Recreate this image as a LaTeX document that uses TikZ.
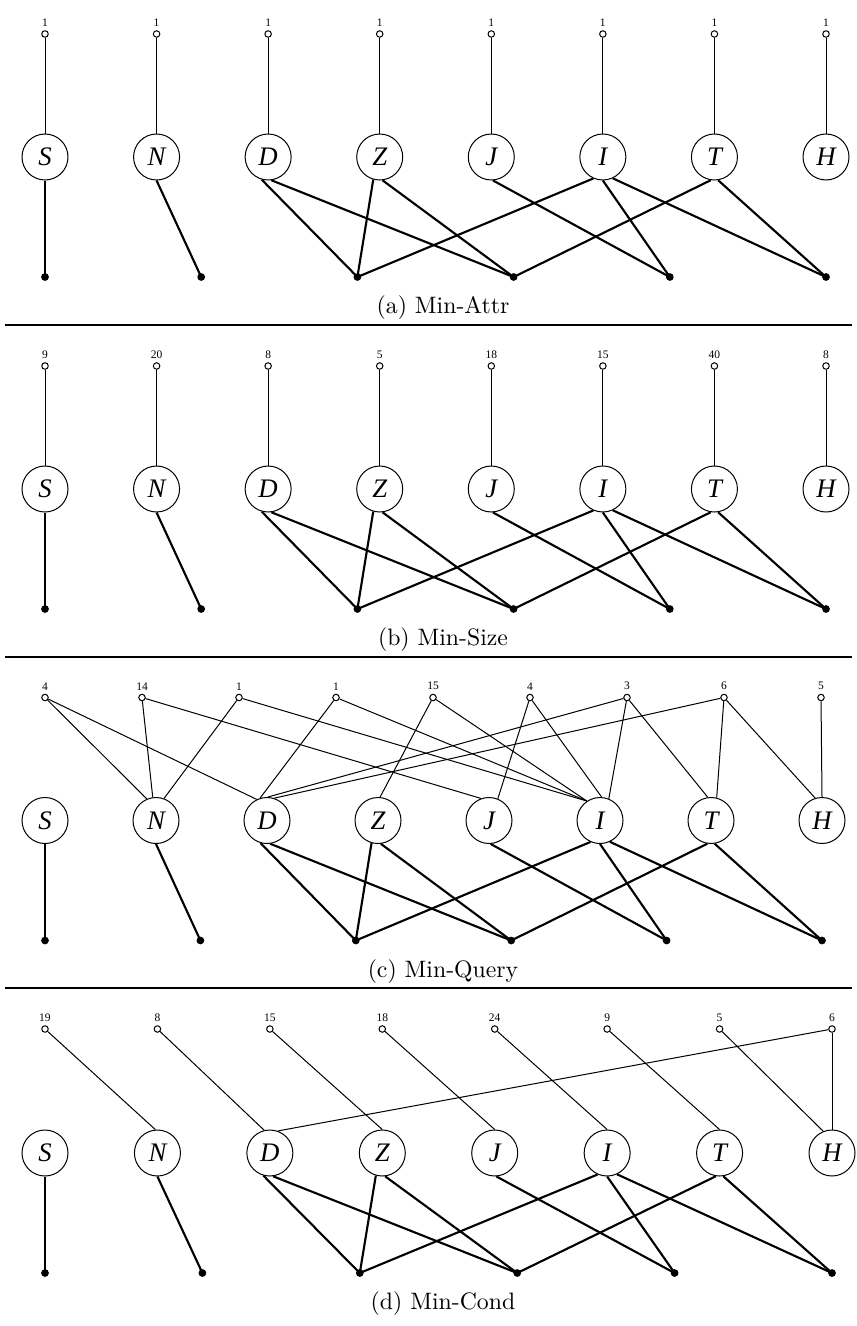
\documentclass[tikz,border=0pt]{standalone}
\usepackage{fontspec}
\newfontfamily\tmsfont{Liberation Serif}

% One panel: eight attribute vertices, six result dots, the heavy edges and the caption.
% #1 name prefix, #2 vertical shift, #3 horizontal span, #4 caption
\newcommand\panelbase[4]{%
  \foreach \L [count=\i from 0] in {S,N,D,Z,J,I,T,H}
    \node[vtx] (#1\L) at ({45+\i*#3/7},{157+#2}) {\L};
  \foreach \j in {1,...,6}
    \node[leaf] (#1b\j) at ({45+(\j-1)*#3/5},{277+#2}) {};
  \draw[heavy edge] (#1S.-90)  -- (#1b1.center);
  \draw[heavy edge] (#1N.-90)  -- (#1b2.center);
  \draw[heavy edge] (#1D.-106) -- (#1b3.center);
  \draw[heavy edge] (#1D.-82)  -- (#1b4.center);
  \draw[heavy edge] (#1Z.-106) -- (#1b3.center);
  \draw[heavy edge] (#1Z.-83)  -- (#1b4.center);
  \draw[heavy edge] (#1J.-86)  -- (#1b5.center);
  \draw[heavy edge] (#1I.-114) -- (#1b3.center);
  \draw[heavy edge] (#1I.-90)  -- (#1b5.center);
  \draw[heavy edge] (#1I.-65)  -- (#1b6.center);
  \draw[heavy edge] (#1T.-99)  -- (#1b4.center);
  \draw[heavy edge] (#1T.-81)  -- (#1b6.center);
  \node[caption] (#1cap) at (443,{308+#2}) {#4};
}

\begin{document}
\begin{tikzpicture}[x=0.4pt,y=-0.4pt,
  vtx/.style={circle,draw,line width=0.4pt,minimum size=18.4pt,inner sep=0pt,
    font=\tmsfont\itshape\fontsize{10.7}{12}\selectfont},
  qpt/.style={circle,draw,line width=0.4pt,minimum size=2.6pt,inner sep=0pt,fill=white},
  leaf/.style={circle,fill=black,minimum size=3.1pt,inner sep=0pt},
  thin edge/.style={line width=0.4pt},
  heavy edge/.style={line width=0.85pt},
  qlabel/.style={font=\tmsfont\fontsize{4.6}{5}\selectfont,inner sep=0pt,label distance=1.3pt},
  caption/.style={font=\fontsize{9.5}{11}\selectfont,inner sep=0pt},
  rule/.style={line width=0.6pt}]

\useasboundingbox (0,0) rectangle (857,1326);

% ---------------- (a) Min-Attr ----------------
\panelbase{a}{0}{781}{(a) Min-Attr}
\foreach \L/\v [count=\i from 0] in {S/1,N/1,D/1,Z/1,J/1,I/1,T/1,H/1} {
  \node[qpt,label={[qlabel]above:\v}] (aq\i) at ({45+\i*781/7},34) {};
  \draw[thin edge] (aq\i) -- (a\L.90);
}
\draw[rule] (5,325) -- (852,325);

% ---------------- (b) Min-Size ----------------
\panelbase{b}{332}{781}{(b) Min-Size}
\foreach \L/\v [count=\i from 0] in {S/9,N/20,D/8,Z/5,J/18,I/15,T/40,H/8} {
  \node[qpt,label={[qlabel]above:\v}] (bq\i) at ({45+\i*781/7},366) {};
  \draw[thin edge] (bq\i) -- (b\L.90);
}
\draw[rule] (5,657) -- (852,657);

% ---------------- (c) Min-Query ----------------
\panelbase{c}{663.5}{777}{(c) Min-Query}
\foreach \v [count=\k from 1] in {4,14,1,1,15,4,3,6,5}
  \node[qpt,label={[qlabel]above:\v}] (cq\k) at ({45+(\k-1)*776/8},697.5) {};
\draw[thin edge] (cq1) -- (cN.113);
\draw[thin edge] (cq1) -- (cD.116);
\draw[thin edge] (cq2) -- (cN.98);
\draw[thin edge] (cq2) -- (cJ.110);
\draw[thin edge] (cq3) -- (cN.70);
\draw[thin edge] (cq3) -- (cI.124);
\draw[thin edge] (cq4) -- (cD.107);
\draw[thin edge] (cq4) -- (cI.124);
\draw[thin edge] (cq5) -- (cZ.85);
\draw[thin edge] (cq5) -- (cI.124);
\draw[thin edge] (cq6) -- (cJ.68);
\draw[thin edge] (cq6) -- (cI.86);
\draw[thin edge] (cq7) -- (cD.88);
\draw[thin edge] (cq7) -- (cI.68);
\draw[thin edge] (cq7) -- (cT.98);
\draw[thin edge] (cq8) -- (cD.72);
\draw[thin edge] (cq8) -- (cT.76);
\draw[thin edge] (cq8) -- (cH.107);
\draw[thin edge] (cq9) -- (cH.90);
\draw[rule] (5,988) -- (852,988);

% ---------------- (d) Min-Cond ----------------
\panelbase{d}{996}{787}{(d) Min-Cond}
\foreach \v [count=\k from 1] in {19,8,15,18,24,9,5,6}
  \node[qpt,label={[qlabel]above:\v}] (dq\k) at ({45+(\k-1)*787/7},1029) {};
\draw[thin edge] (dq1) -- (dN.95);
\draw[thin edge] (dq2) -- (dD.104);
\draw[thin edge] (dq3) -- (dZ.90);
\draw[thin edge] (dq4) -- (dJ.90);
\draw[thin edge] (dq5) -- (dI.90);
\draw[thin edge] (dq6) -- (dT.90);
\draw[thin edge] (dq7) -- (dH.112);
\draw[thin edge] (dq8) -- (dH.90);
\draw[thin edge] (dq8) -- (dD.70);

\end{tikzpicture}
\end{document}
